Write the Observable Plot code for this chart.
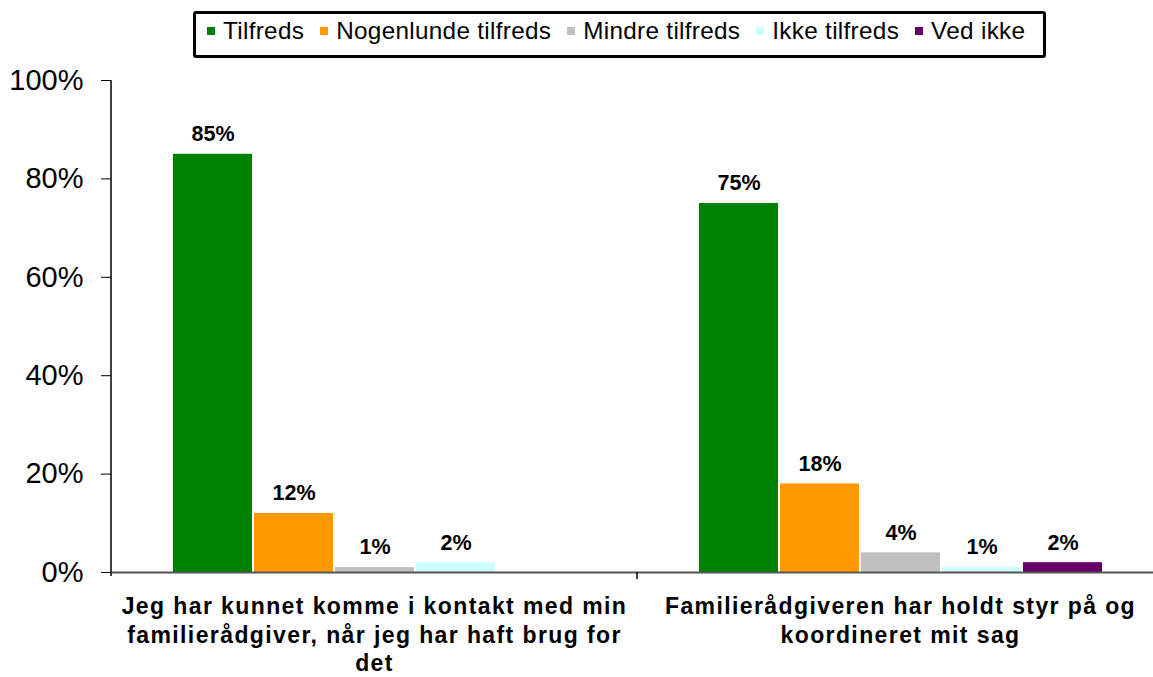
<!DOCTYPE html>
<html>
<head>
<meta charset="utf-8">
<script src="https://cdn.jsdelivr.net/npm/d3@7"></script>
<script src="https://cdn.jsdelivr.net/npm/@observablehq/plot@0.6"></script>
<style>
  html, body { margin: 0; padding: 0; background: white; overflow: hidden; }
  body { width: 1153px; height: 677px; position: relative; font-family: "Liberation Sans", Arial, sans-serif; }
  #legendWrap { position: relative; height: 60px; }
  #legend { position: absolute; left: 193px; top: 11px; width: 853px; height: 47px; box-sizing: border-box;
            border: 3px solid #000; border-radius: 3px; display: flex; align-items: flex-start; padding: 2px 0 0 11px; }
  .item { display: flex; align-items: center; font-size: 24.3px; letter-spacing: 0.3px; color: #000; margin-right: 16px; height: 30px; }
  .sw { width: 8px; height: 8px; margin-right: 8px; }
  #chart { position: absolute; left: 0; top: 60px; width: 1163px; }
  #chart svg { max-width: none !important; }
</style>
</head>
<body>
<div id="legendWrap"><div id="legend"></div></div>
<div id="chart"></div>
<script>
const categories = [
  "Jeg har kunnet komme i kontakt med min\nfamilierådgiver, når jeg har haft brug for\ndet",
  "Familierådgiveren har holdt styr på og\nkoordineret mit sag"
];
const series = ["Tilfreds", "Nogenlunde tilfreds", "Mindre tilfreds", "Ikke tilfreds", "Ved ikke"];
const colors = ["#008000", "#FF9900", "#C0C0C0", "#CCFFFF", "#660066"];
const valuesQ1 = [85, 12, 1, 2, null];
const valuesQ2 = [75, 18, 4, 1, 2];
const yTicks = [0, 20, 40, 60, 80, 100];

const allValues = [valuesQ1, valuesQ2];
const data = [];
categories.forEach((c, i) => {
  series.forEach((s, j) => {
    const v = allValues[i][j];
    if (v != null) data.push({category: c, series: s, value: v});
  });
});

// legend
const legend = document.getElementById("legend");
series.forEach((s, j) => {
  const it = document.createElement("div");
  it.className = "item";
  const sw = document.createElement("div");
  sw.className = "sw";
  sw.style.background = colors[j];
  const t = document.createElement("span");
  t.textContent = s;
  it.appendChild(sw); it.appendChild(t);
  legend.appendChild(it);
});

const fmt = d => d + "%";
const plot = Plot.plot({
  width: 1163,
  height: 617,
  marginLeft: 111,
  marginRight: 0,
  marginTop: 20,
  marginBottom: 105,
  style: {fontFamily: "'Liberation Sans', Arial, sans-serif", background: "white", color: "#000", maxWidth: "none"},
  fx: {domain: categories, padding: 0, label: null, axis: null},
  x: {domain: series, paddingInner: 0.025, paddingOuter: 0.75, axis: null},
  y: {domain: [0, 100], label: null, axis: null},
  color: {domain: series, range: colors},
  marks: [
    Plot.barY(data, {fx: "category", x: "series", y: "value", fill: "series"}),
    Plot.text(data, {fx: "category", x: "series", y: "value", text: d => fmt(d.value), dy: -20,
      fontSize: 21.5, fontWeight: "bold", fill: "#000"}),
    Plot.ruleY([0], {stroke: "#555", strokeWidth: 2}),
    Plot.axisY({anchor: "left", ticks: yTicks, tickFormat: fmt, tickSize: 10, tickPadding: 18, fontSize: 29, label: null, stroke: "#000"}),
    Plot.axisFx({anchor: "bottom", tickSize: 0, tickPadding: 21, fontSize: 23, fontWeight: "bold", lineHeight: 1.25, label: null})
  ]
});
plot.style.maxWidth = "none";
document.getElementById("chart").appendChild(plot);

// widen the category labels slightly, as in the reference
d3.select(plot).selectAll("g[aria-label='fx-axis tick label'] text").style("letter-spacing", "1.4px");

// y-axis line and category boundary ticks, placed from the library's scales
const fx = plot.scale("fx");
const y = plot.scale("y");
const svg = d3.select(plot);
const x0 = fx.apply(categories[0]);
svg.append("line")
  .attr("x1", x0).attr("x2", x0)
  .attr("y1", y.apply(100)).attr("y2", y.apply(0) + 4)
  .attr("stroke", "#000").attr("stroke-width", 1.5);
categories.forEach(c => {
  const xe = fx.apply(c) + fx.bandwidth;
  svg.append("line")
    .attr("x1", xe).attr("x2", xe)
    .attr("y1", y.apply(0)).attr("y2", y.apply(0) + 7)
    .attr("stroke", "#000").attr("stroke-width", 1.5);
});
</script>
</body>
</html>
